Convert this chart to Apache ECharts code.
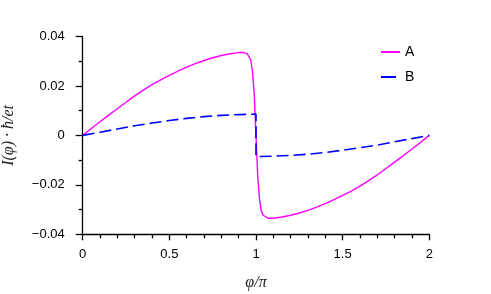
<!DOCTYPE html>
<html>
<head>
<meta charset="utf-8">
<script src="https://cdn.jsdelivr.net/npm/echarts@6/dist/echarts.min.js"></script>
<style>
html,body{margin:0;padding:0;background:#fff;}
#chart{width:491px;height:294px;}
</style>
</head>
<body>
<div id="chart"></div>
<script>
// Series A (magenta, solid)
var phiA = [0, 0.05, 0.1, 0.15, 0.2, 0.25, 0.3, 0.35, 0.4, 0.45, 0.5, 0.55, 0.6, 0.65, 0.7, 0.75, 0.8, 0.85, 0.9, 0.93, 0.95, 0.96, 0.97, 0.98, 0.99, 1.0,
            1.01, 1.02, 1.03, 1.04, 1.05, 1.07, 1.1, 1.15, 1.2, 1.25, 1.3, 1.35, 1.4, 1.45, 1.5, 1.55, 1.6, 1.65, 1.7, 1.75, 1.8, 1.85, 1.9, 1.95, 2.0];
var valA = [0, 0.0028, 0.0055, 0.0082, 0.0108, 0.0134, 0.0160, 0.0183, 0.0205, 0.0225, 0.0243, 0.0260, 0.0276, 0.0290, 0.0303, 0.0314, 0.0323, 0.0330, 0.0335, 0.0335, 0.0330, 0.0322, 0.0305, 0.0255, 0.0165, 0,
            -0.0165, -0.0255, -0.0305, -0.0322, -0.0330, -0.0335, -0.0335, -0.0330, -0.0323, -0.0314, -0.0303, -0.0290, -0.0276, -0.0260, -0.0243, -0.0225, -0.0205, -0.0183, -0.0160, -0.0134, -0.0108, -0.0082, -0.0055, -0.0028, 0];
// Series B (blue, dashed)
var phiB = [0, 0.1, 0.2, 0.3, 0.4, 0.5, 0.6, 0.7, 0.8, 0.9, 1.0, 1.0, 1.1, 1.2, 1.3, 1.4, 1.5, 1.6, 1.7, 1.8, 1.9, 2.0];
var valB = [0, 0.0013, 0.0026, 0.0039, 0.0050, 0.0060, 0.0069, 0.0076, 0.0081, 0.0084, 0.0086,
            -0.0086, -0.0084, -0.0081, -0.0076, -0.0069, -0.0060, -0.0050, -0.0039, -0.0026, -0.0013, 0];
var seriesNames = ['A', 'B'];
var xTicks = [0, 0.5, 1, 1.5, 2];
var yTicks = [-0.04, -0.02, 0, 0.02, 0.04];

function pairs(xs, ys){ return xs.map(function(x,i){ return [x, ys[i]]; }); }

var chart = echarts.init(document.getElementById('chart'), null, {renderer:'canvas'});
var axisCol = '#000';
chart.setOption({
  animation: false,
  backgroundColor: '#fff',
  grid: {left: 82.7, right: 61.7, top: 36.5, bottom: 59.7, containLabel: false, outerBoundsMode: 'none'},
  legend: {
    orient: 'vertical', left: 380, top: 45, padding: 0, itemWidth: 19, itemHeight: 14, itemGap: 11,
    itemStyle: {opacity: 0},
    textStyle: {fontFamily: 'Liberation Sans', fontSize: 14, color: '#000'},
    data: [
      {name: seriesNames[0]},
      {name: seriesNames[1], lineStyle: {type: [15, 6]}}
    ]
  },
  xAxis: {
    type: 'value', min: xTicks[0], max: xTicks[xTicks.length-1], interval: 0.5,
    name: 'φ/π', nameLocation: 'middle', nameGap: 40,
    nameTextStyle: {fontFamily: 'Liberation Serif', fontStyle: 'italic', fontSize: 16, color: '#222'},
    axisLine: {show: true, onZero: false, lineStyle: {color: axisCol, width: 1.3}},
    axisTick: {show: true, length: 6, lineStyle: {color: axisCol, width: 1.3}},
    minorTick: {show: true, splitNumber: 5, length: 4, lineStyle: {color: axisCol, width: 1.3}},
    splitLine: {show: false},
    axisLabel: {margin: 14, fontFamily: 'Liberation Sans', fontSize: 13, color: '#000',
      formatter: function(v){ return String(v); }}
  },
  yAxis: {
    type: 'value', min: yTicks[0], max: yTicks[yTicks.length-1], interval: 0.02,
    name: 'I(φ) · ħ/et', nameLocation: 'middle', nameGap: 66, nameRotate: 90,
    nameTextStyle: {fontFamily: 'Liberation Serif', fontStyle: 'italic', fontSize: 16, color: '#222'},
    axisLine: {show: true, onZero: false, lineStyle: {color: axisCol, width: 1.3}},
    axisTick: {show: true, length: 7, lineStyle: {color: axisCol, width: 1.3}},
    minorTick: {show: true, splitNumber: 2, length: 4, lineStyle: {color: axisCol, width: 1.3}},
    splitLine: {show: false},
    axisLabel: {margin: 18, fontFamily: 'Liberation Sans', fontSize: 13, color: '#000',
      formatter: function(v){
        if (Math.abs(v) < 1e-12) return '0';
        return (v < 0 ? '\u2212' : '') + Math.abs(v).toFixed(2);
      }}
  },
  series: [
    {name: seriesNames[0], type: 'line', data: pairs(phiA, valA), symbol: 'none', showSymbol: false,
     itemStyle: {color: '#ff00ff'}, lineStyle: {color: '#ff00ff', width: 1.4}},
    {name: seriesNames[1], type: 'line', data: pairs(phiB, valB), symbol: 'none', showSymbol: false,
     itemStyle: {color: '#0000ff'}, lineStyle: {color: '#0000ff', width: 1.6, type: [12, 5]}}
  ]
});
</script>
</body>
</html>
